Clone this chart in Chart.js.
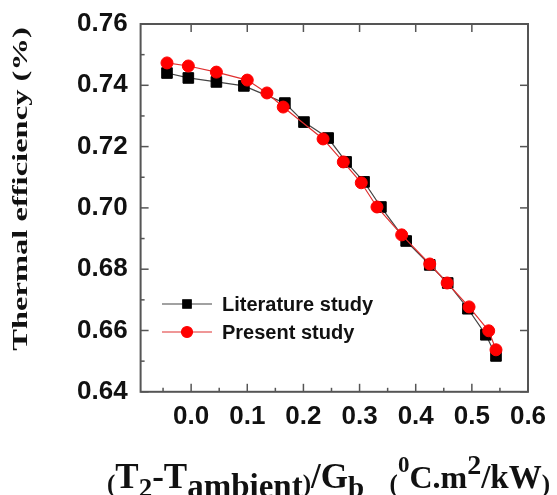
<!DOCTYPE html>
<html><head><meta charset="utf-8">
<script src="https://cdn.jsdelivr.net/npm/chart.js@4.4.0/dist/chart.umd.min.js"></script>
<style>html,body{margin:0;padding:0;background:#fff;}#wrap{width:557px;height:495px;}</style>
</head><body><div id="wrap"><canvas id="c" width="557" height="495"></canvas></div>
<script>
const seriesLabels = ['Literature study', 'Present study'];
const literatureX = [-0.043, -0.005, 0.045, 0.094, 0.167, 0.201, 0.244, 0.276, 0.308, 0.338, 0.383, 0.425, 0.457, 0.493, 0.525, 0.543];
const literatureY = [0.7440, 0.7424, 0.7411, 0.7398, 0.7342, 0.7280, 0.7228, 0.7150, 0.7085, 0.7003, 0.6892, 0.6814, 0.6755, 0.6671, 0.6586, 0.6517];
const presentX = [-0.043, -0.005, 0.045, 0.100, 0.135, 0.164, 0.235, 0.271, 0.303, 0.331, 0.375, 0.425, 0.456, 0.495, 0.530, 0.543];
const presentY = [0.7473, 0.7463, 0.7443, 0.7417, 0.7375, 0.7329, 0.7225, 0.7150, 0.7082, 0.7003, 0.6912, 0.6817, 0.6755, 0.6677, 0.6599, 0.6537];
const xTickValues = [0.0, 0.1, 0.2, 0.3, 0.4, 0.5, 0.6];
const xMinorTickValues = [-0.05, 0.05, 0.15, 0.25, 0.35, 0.45, 0.55];
const yTickValues = [0.64, 0.66, 0.68, 0.70, 0.72, 0.74, 0.76];
const yMinorTickValues = [0.65, 0.67, 0.69, 0.71, 0.73, 0.75];
const yTitle = 'Thermal efficiency (%)';
// [text, size(px), baseline offset(px)]
const xTitleParts = [
  ['(', 25, 4], ['T', 35, 0], ['2', 27, 9], ['-T', 35, 0], ['ambient', 33, 9], [')', 25, 4],
  ['/G', 35, 0], ['b', 29, 9], ['   ', 34, 0], ['(', 25, 4], ['0', 23, -16], ['C.m', 32, 0],
  ['2', 28, -14], ['/kW', 33, 0], [')', 25, 4]
];

const pts = (xs, ys) => xs.map((x, i) => ({x: x, y: ys[i]}));

const framePlugin = {
  id: 'frame',
  afterDraw(chart) {
    const ctx = chart.ctx, a = chart.chartArea, x = chart.scales.x, y = chart.scales.y;
    ctx.save();
    ctx.strokeStyle = '#555';
    ctx.lineWidth = 2;
    ctx.strokeRect(a.left, a.top, a.right - a.left, a.bottom - a.top);
    ctx.lineWidth = 1.5;
    const seg = (x1, y1, x2, y2) => { ctx.beginPath(); ctx.moveTo(x1, y1); ctx.lineTo(x2, y2); ctx.stroke(); };
    xTickValues.forEach(v => { const p = x.getPixelForValue(v); seg(p, a.bottom, p, a.bottom - 8); seg(p, a.top, p, a.top + 8); });
    xMinorTickValues.forEach(v => { const p = x.getPixelForValue(v); seg(p, a.bottom, p, a.bottom - 4); });
    yTickValues.forEach(v => { const p = y.getPixelForValue(v); seg(a.left, p, a.left + 8, p); seg(a.right, p, a.right - 8, p); });
    yMinorTickValues.forEach(v => { const p = y.getPixelForValue(v); seg(a.left, p, a.left + 4, p); });

    // y title (stretched along its length like the reference)
    ctx.fillStyle = '#111';
    ctx.save();
    ctx.translate(27, 189);
    ctx.rotate(-Math.PI / 2);
    ctx.scale(1.55, 1);
    ctx.font = 'bold 21px "Liberation Serif"';
    ctx.textAlign = 'center';
    ctx.textBaseline = 'alphabetic';
    ctx.fillText(yTitle, 0, 0);
    ctx.restore();

    // x title with sub/superscripts
    let cx = 107;
    const by = 488;
    ctx.textAlign = 'left';
    ctx.textBaseline = 'alphabetic';
    xTitleParts.forEach(([t, size, dy]) => {
      ctx.font = 'bold ' + size + 'px "Liberation Serif"';
      ctx.fillText(t, cx, by + dy);
      cx += ctx.measureText(t).width;
    });

    // legend
    ctx.font = 'bold 20px "Liberation Sans"';
    ctx.textBaseline = 'middle';
    chart.data.datasets.forEach((ds, i) => {
      const ly = 304 + i * 28;
      ctx.strokeStyle = ds.borderColor;
      ctx.lineWidth = 1.2;
      seg(162, ly, 212, ly);
      ctx.fillStyle = ds.pointBackgroundColor;
      ctx.strokeStyle = ds.pointBorderColor;
      Chart.helpers.drawPoint(ctx, {pointStyle: ds.pointStyle, radius: ds.pointStyle === 'rect' ? 6 : 5.5, borderWidth: 1, rotation: 0}, 187, ly);
      ctx.fillStyle = '#111';
      ctx.fillText(ds.label, 222, ly + 1);
    });
    ctx.restore();
  }
};

new Chart(document.getElementById('c'), {
  type: 'scatter',
  data: {
    datasets: [
      {
        label: seriesLabels[0], data: pts(literatureX, literatureY), showLine: true,
        borderColor: '#444', borderWidth: 1.2, pointStyle: 'rect', pointRadius: 7.5,
        pointBackgroundColor: '#000', pointBorderColor: '#000', pointBorderWidth: 1, order: 1
      },
      {
        label: seriesLabels[1], data: pts(presentX, presentY), showLine: true,
        borderColor: '#e03030', borderWidth: 1.2, pointStyle: 'circle', pointRadius: 6,
        pointBackgroundColor: '#ff0000', pointBorderColor: '#ff0000', pointBorderWidth: 1, order: 0
      }
    ]
  },
  options: {
    responsive: false, animation: false, devicePixelRatio: 1,
    layout: {padding: {left: 64, right: 29, top: 24, bottom: 54}},
    plugins: {legend: {display: false}, tooltip: {enabled: false}},
    scales: {
      x: {
        type: 'linear', min: -0.09, max: 0.6,
        afterBuildTicks: s => { s.ticks = xTickValues.map(v => ({value: v})); },
        grid: {display: false, drawTicks: false}, border: {display: false},
        ticks: {padding: 9, color: '#111', font: {family: '"Liberation Sans"', size: 26, weight: 'bold', lineHeight: 1.2}, callback: v => Number(v).toFixed(1), maxRotation: 0}
      },
      y: {
        type: 'linear', min: 0.64, max: 0.76,
        afterBuildTicks: s => { s.ticks = yTickValues.map(v => ({value: v})); },
        grid: {display: false, drawTicks: false}, border: {display: false},
        ticks: {padding: 13, color: '#111', font: {family: '"Liberation Sans"', size: 26, weight: 'bold', lineHeight: 0.8}, callback: v => Number(v).toFixed(2)}
      }
    }
  },
  plugins: [framePlugin]
});
</script></body></html>
